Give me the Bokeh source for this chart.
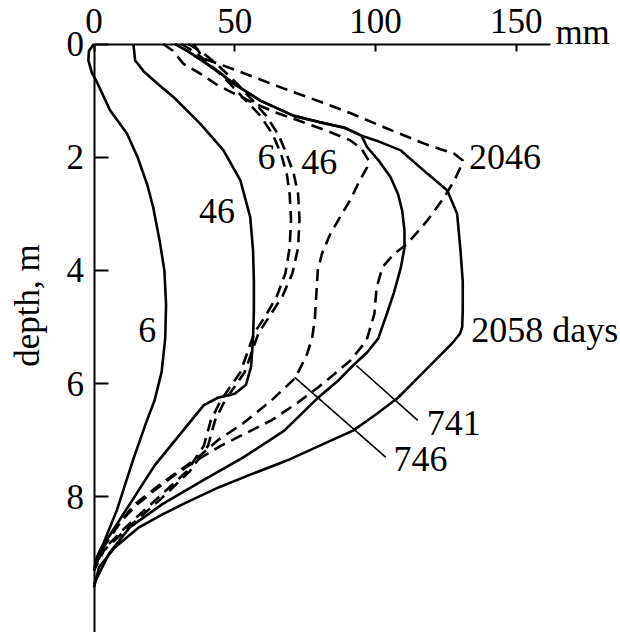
import numpy as np
from bokeh.plotting import figure
from bokeh.models import Range1d, FixedTicker, LinearAxis
from bokeh.core.properties import value
from bokeh.embed import file_html
from bokeh.resources import INLINE

# ---------------- data (displacement in mm, depth in m) ----------------
x_ticks = [0, 50, 100, 150]
y_ticks = [0, 2, 4, 6, 8]

# solid curves (days 6, 46, 741, 2058)
s6_mm = [0, -1.8, -2.0, -0.8, 1, 5.7, 11.7, 15.5, 19, 21, 23.3, 25, 25.6, 25.3, 24, 21.5, 18.8, 14, 8.1, 3.3, 1, 0]
s6_d = [0, 0.12, 0.29, 0.5, 0.67, 1.17, 1.58, 2.0, 2.5, 2.88, 3.47, 4.0, 4.6, 5.2, 5.8, 6.3, 6.65, 7.33, 8.24, 8.83, 9.07, 9.3]

s46_mm = [14, 14.6, 17.6, 23, 28.3, 37.8, 46, 52, 55.5, 56.5, 56.8, 56.8, 56.5, 55.8, 54, 50, 44, 39, 21.5, 2.1, 0]
s46_d = [0, 0.29, 0.48, 0.72, 0.94, 1.41, 1.88, 2.41, 3.06, 3.65, 4.2, 4.7, 5.2, 5.7, 6.02, 6.18, 6.25, 6.38, 7.45, 8.95, 9.3]

s741_mm = [28.8, 34, 40.1, 45, 49.6, 59.1, 71, 80, 89, 95, 97, 101, 105.3, 108, 109.5, 110.3, 110.3, 109, 106.5, 104,
           101, 97, 92, 86.9, 79.8, 67.6, 53.2, 38.7, 24.3, 12.7, 5.4, 0]
s741_d = [0, 0.15, 0.35, 0.52, 0.7, 1.0, 1.27, 1.38, 1.48, 1.62, 1.82, 2.05, 2.35, 2.65, 2.95, 3.3, 3.6, 3.95, 4.4, 4.77,
          5.2, 5.45, 5.68, 5.94, 6.24, 6.83, 7.3, 7.71, 8.13, 8.54, 9.0, 9.54]

s2058_mm = [28.8, 34, 40.1, 45, 49.6, 59.1, 71, 80, 89, 95, 101, 109, 118.4, 125.5, 129, 130.2, 131, 131, 130.8, 130,
            127, 122, 116, 108, 100, 92, 80, 68.5, 56, 44.4, 31.6, 24, 16, 7.5, 1.8, 0]
s2058_d = [0, 0.15, 0.35, 0.52, 0.7, 1.0, 1.27, 1.38, 1.48, 1.62, 1.72, 1.88, 2.29, 2.59, 3.0, 3.65, 4.2, 4.7, 5.0, 5.12,
           5.3, 5.55, 5.85, 6.25, 6.55, 6.83, 7.1, 7.36, 7.6, 7.83, 8.13, 8.32, 8.54, 8.89, 9.24, 9.6]

# dashed curves (days 6, 46, 746, 2046)
curve_d = [0, 0.15, 0.35, 0.66, 0.95, 1.26, 1.6, 1.95, 2.3, 2.65, 3.1, 3.6, 4.05, 4.45, 4.8, 5.1, 5.45, 5.8, 6.05,
           6.3, 6.65, 7.1, 7.55, 8.05, 8.55, 8.95, 9.3]
d6_mm = [31, 36, 41, 47.5, 53, 59, 63.5, 66.5, 68.5, 69.5, 70, 69.5, 68, 65, 61, 57, 54.5, 52, 48.5,
         45, 41.5, 39, 33, 22, 11, 3, 0]
d46_mm = [33.5, 38.5, 43.5, 50, 55.5, 61, 65.5, 68.5, 71, 72.5, 73, 72.5, 70.5, 67, 62.5, 58.5, 56, 53.5, 50,
          46.5, 43, 40.5, 34, 23.5, 12, 3.5, 0]

d746_mm = [24.6, 28, 31.8, 37, 44, 50, 55.7, 64, 73.6, 82, 91, 95, 97.6, 97, 94, 91, 87.5, 84, 81, 79.5, 79, 78.5,
           77.5, 75.5, 71.5, 63, 53, 44, 37, 30, 24.3, 14, 8, 2.6, 0]
d746_d = [0, 0.12, 0.35, 0.5, 0.73, 0.88, 1.02, 1.2, 1.37, 1.52, 1.7, 1.85, 2.06, 2.18, 2.45, 2.76, 3.05, 3.35, 3.7,
          4.0, 4.4, 4.83, 5.2, 5.5, 5.9, 6.3, 6.7, 7.0, 7.3, 7.55, 7.75, 8.15, 8.55, 8.95, 9.3]

d2046_mm = [35.4, 39, 47, 55.5, 67, 79.3, 91, 103, 117.3, 128, 131, 130, 128, 124.4, 118.4, 111.3, 106.6, 102.5,
            100.4, 99.6, 96.8, 91.1, 85.4, 79.8, 72, 63, 53, 45, 37.3, 29, 21.4, 15, 9.8, 5, 2.6, 0]
d2046_d = [0, 0.26, 0.4, 0.56, 0.78, 1.0, 1.22, 1.47, 1.76, 1.94, 2.06, 2.2, 2.41, 2.71, 3.12, 3.53, 3.71, 3.94,
           4.3, 4.77, 5.24, 5.59, 5.83, 6.06, 6.35, 6.65, 6.9, 7.1, 7.33, 7.6, 7.89, 8.15, 8.42, 8.7, 8.95, 9.3]

# curve labels
label_text = ["6", "46", "6", "46", "2046", "741", "746"]
label_mm = [18.9, 43.7, 61.3, 80, 146, 127.8, 116]
label_d = [5.06, 2.95, 2.0, 2.08, 2.0, 6.69, 7.33]
days_text = "2058 days"
days_mm, days_d = 134, 5.06

# leader lines for 741 and 746
lead741_mm = [93.2, 115]
lead741_d = [5.68, 6.65]
lead746_mm = [71.3, 103.6]
lead746_d = [5.89, 7.3]

# ---------------- figure ----------------
W, H = 620, 632
PX_MM, X_ORG = 2.815, 93.5      # pixels per mm, pixel of 0 mm
PX_M, Y_ORG = 56.6, 43.5        # pixels per m, pixel of 0 m
x_range = Range1d(-X_ORG / PX_MM, (W - X_ORG) / PX_MM)
y_range = Range1d((H - Y_ORG) / PX_M, -Y_ORG / PX_M)

FONT = "Liberation Serif"
p = figure(width=W, height=H, output_backend="svg", toolbar_location=None,
           x_range=x_range, y_range=y_range,
           x_axis_location=None, y_axis_location=None,
           min_border=0, min_border_left=0, min_border_right=0, min_border_top=0, min_border_bottom=0)
p.outline_line_color = None
p.grid.visible = False
p.background_fill_color = "white"
p.border_fill_color = "white"

xa = LinearAxis(fixed_location=0, ticker=FixedTicker(ticks=x_ticks), bounds=(0, 162))
ya = LinearAxis(fixed_location=0, ticker=FixedTicker(ticks=y_ticks), bounds=(0, y_range.start))
for ax in (xa, ya):
    ax.axis_line_width = 2
    ax.axis_line_color = "black"
    ax.major_tick_line_width = 2
    ax.major_tick_line_color = "black"
    ax.major_tick_out = 0
    ax.minor_tick_in = 0
    ax.minor_tick_out = 0
    ax.major_label_text_font = FONT
    ax.major_label_text_font_size = "35px"
    ax.major_label_text_color = "black"
xa.major_tick_in = 7
xa.major_label_standoff = 11
ya.major_tick_in = 14
ya.major_label_standoff = 10
p.add_layout(xa, "above")
p.add_layout(ya, "left")

LW = 2.6
DASH = "12 7"
p.line(s6_mm, s6_d, line_color="black", line_width=LW)
p.line(s46_mm, s46_d, line_color="black", line_width=LW)
p.line(s741_mm, s741_d, line_color="black", line_width=LW)
p.line(s2058_mm, s2058_d, line_color="black", line_width=LW)
p.line(d6_mm, curve_d, line_color="black", line_width=LW, line_dash=DASH)
p.line(d46_mm, curve_d, line_color="black", line_width=LW, line_dash=DASH)
p.line(d746_mm, d746_d, line_color="black", line_width=LW, line_dash=DASH)
p.line(d2046_mm, d2046_d, line_color="black", line_width=LW, line_dash=DASH)

p.line(lead741_mm, lead741_d, line_color="black", line_width=1.6)
p.line(lead746_mm, lead746_d, line_color="black", line_width=1.6)

p.text(x=label_mm, y=label_d, text=label_text, text_font=value(FONT), text_font_size="36px",
       text_align="center", text_baseline="middle", text_color="black")
p.text(x=[days_mm], y=[days_d], text=[days_text], text_font=value(FONT), text_font_size="36px",
       text_align="left", text_baseline="middle", text_color="black")

# unit of the top axis and title of the depth axis
p.text(x=[163.9], y=[-0.21], text=["mm"], text_font=value(FONT), text_font_size="35px",
       text_align="left", text_baseline="alphabetic", text_color="black")
p.text(x=[-23.6], y=[4.62], text=["depth, m"], angle=np.pi / 2, text_font=value(FONT), text_font_size="35px",
       text_align="center", text_baseline="middle", text_color="black")

open("out.html", "w").write(file_html(p, INLINE))
